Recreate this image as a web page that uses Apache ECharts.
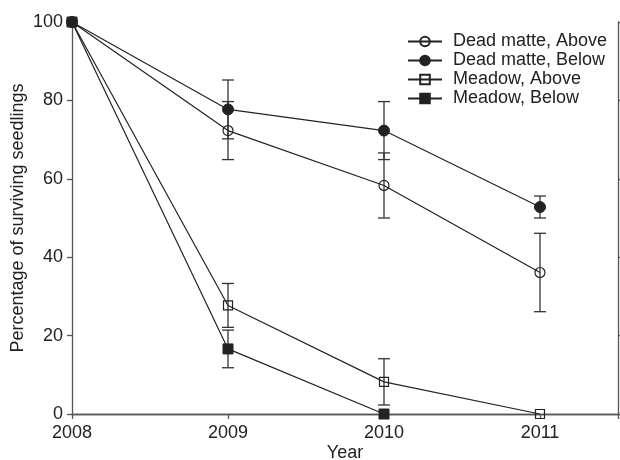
<!DOCTYPE html>
<html>
<head>
<meta charset="utf-8">
<script src="https://cdn.jsdelivr.net/npm/echarts@6/dist/echarts.min.js"></script>
<style>
html,body{margin:0;padding:0;background:#fff;}
#chart{width:620px;height:460px;}
</style>
</head>
<body>
<div id="chart"></div>
<script>
var years = [2008, 2009, 2010, 2011];
var yTicks = [0, 20, 40, 60, 80, 100];
var deadAbove = [100, 72.3, 58.3, 36.1];
var deadAboveErr = [0, 7.4, 8.3, 10.0];
var deadBelow = [100, 77.7, 72.3, 52.8];
var deadBelowErr = [0, 7.5, 7.4, 2.8];
var meadowAbove = [100, 27.7, 8.2, 0];
var meadowAboveErr = [0, 5.6, 5.9, 0];
var meadowBelow = [100, 16.6, 0, null];
var meadowBelowErr = [0, 4.8, 0, null];
var seriesNames = ['Dead matte, Above', 'Dead matte, Below', 'Meadow, Above', 'Meadow, Below'];

var FONT = '"Liberation Sans", Arial, Helvetica, sans-serif';
var INK = '#222';
var AX = '#555';

function pairs(vals) {
  return years.map(function (y, i) { return vals[i] == null ? null : [y, vals[i]]; }).filter(function (d) { return d; });
}
function errData(vals, errs) {
  var out = [];
  years.forEach(function (y, i) {
    if (vals[i] != null && errs[i]) out.push([y, vals[i] - errs[i], vals[i] + errs[i]]);
  });
  return out;
}
function errSeries(vals, errs) {
  return {
    type: 'custom',
    data: errData(vals, errs),
    silent: true,
    z: 1,
    encode: { x: 0, y: [1, 2] },
    renderItem: function (params, api) {
      var x = api.value(0);
      var lo = api.coord([x, api.value(1)]);
      var hi = api.coord([x, api.value(2)]);
      var hw = 6;
      var st = { stroke: '#333', lineWidth: 1.3, fill: null };
      return {
        type: 'group',
        children: [
          { type: 'line', shape: { x1: lo[0], y1: lo[1], x2: hi[0], y2: hi[1] }, style: st },
          { type: 'line', shape: { x1: lo[0] - hw, y1: lo[1], x2: lo[0] + hw, y2: lo[1] }, style: st },
          { type: 'line', shape: { x1: hi[0] - hw, y1: hi[1], x2: hi[0] + hw, y2: hi[1] }, style: st }
        ]
      };
    }
  };
}
function lineSeries(name, vals, symbol, size, filled) {
  return {
    name: name,
    type: 'line',
    data: pairs(vals),
    symbol: symbol,
    symbolSize: size,
    z: 3,
    lineStyle: { color: INK, width: 1.2 },
    itemStyle: filled ? { color: INK, borderColor: INK, borderWidth: 1 } : { color: 'rgba(0,0,0,0)', borderColor: INK, borderWidth: 1.2 },
    emphasis: { disabled: true }
  };
}

var chart = echarts.init(document.getElementById('chart'), null, { renderer: 'canvas' });
chart.setOption({
  animation: false,
  backgroundColor: '#fff',
  grid: { left: 72, right: 2, top: 22, bottom: 46, containLabel: false, outerBoundsMode: 'none' },
  legend: {
    orient: 'vertical',
    left: 402,
    top: 27,
    itemWidth: 34,
    itemHeight: 12,
    itemGap: 0,
    data: seriesNames,
    textStyle: { fontFamily: FONT, fontSize: 18, color: INK, lineHeight: 19, padding: [0, 0, 0, 6] }
  },
  xAxis: [{
    type: 'value',
    min: 2008, max: 2011.5, interval: 1,
    name: 'Year', nameLocation: 'middle', nameGap: 30, nameMoveOverlap: false,
    nameTextStyle: { fontFamily: FONT, fontSize: 18, color: INK },
    axisLine: { show: true, lineStyle: { color: AX, width: 1.3 } },
    axisTick: { show: true, inside: false, length: 5, lineStyle: { color: AX, width: 1.3 } },
    axisLabel: { fontFamily: FONT, fontSize: 18, color: INK, margin: 10,
      formatter: function (v) { return Math.round(v) === v ? String(v) : ''; } },
    splitLine: { show: false }
  }, {
    type: 'value', position: 'top',
    min: 2008, max: 2011.5, interval: 1,
    axisLine: { show: true, lineStyle: { color: AX, width: 1.3 } },
    axisTick: { show: false }, axisLabel: { show: false }, splitLine: { show: false }
  }],
  yAxis: [{
    type: 'value',
    min: yTicks[0], max: yTicks[yTicks.length - 1], interval: 20,
    name: 'Percentage of surviving seedlings', nameLocation: 'middle', nameGap: 45, nameMoveOverlap: false,
    nameTextStyle: { fontFamily: FONT, fontSize: 18, color: INK },
    axisLine: { show: true, lineStyle: { color: AX, width: 1.3 } },
    axisTick: { show: true, length: 5, lineStyle: { color: AX, width: 1.3 } },
    axisLabel: { fontFamily: FONT, fontSize: 18, color: INK, margin: 9 },
    splitLine: { show: false }
  }, {
    type: 'value', position: 'right',
    min: yTicks[0], max: yTicks[yTicks.length - 1], interval: 20,
    axisLine: { show: true, lineStyle: { color: AX, width: 1.3 } },
    axisTick: { show: true, length: 5, lineStyle: { color: AX, width: 1.3 } },
    axisLabel: { show: false }, splitLine: { show: false }
  }],
  series: [
    errSeries(deadAbove, deadAboveErr),
    errSeries(deadBelow, deadBelowErr),
    errSeries(meadowAbove, meadowAboveErr),
    errSeries(meadowBelow, meadowBelowErr),
    lineSeries(seriesNames[0], deadAbove, 'circle', 10, false),
    lineSeries(seriesNames[1], deadBelow, 'circle', 11, true),
    lineSeries(seriesNames[2], meadowAbove, 'rect', 9, false),
    lineSeries(seriesNames[3], meadowBelow, 'rect', 10, true)
  ]
});
</script>
</body>
</html>
